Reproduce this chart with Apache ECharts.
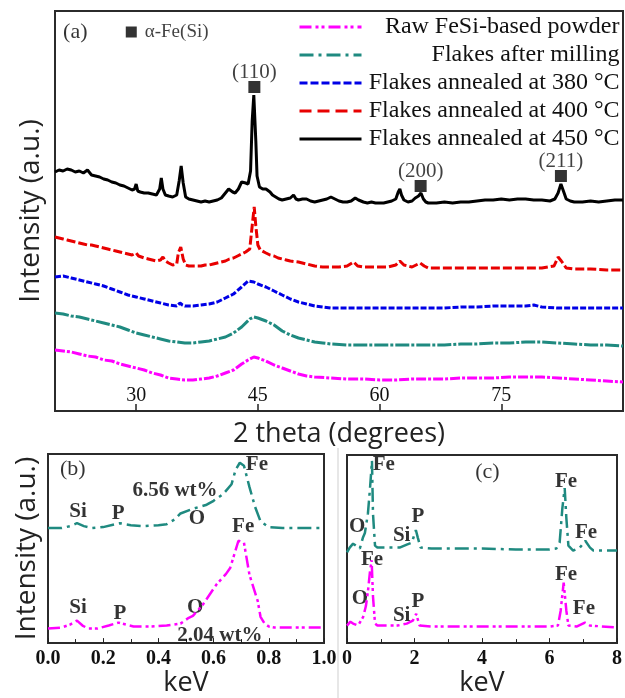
<!DOCTYPE html>
<html>
<head>
<meta charset="utf-8">
<script src="https://cdn.jsdelivr.net/npm/echarts@6/dist/echarts.min.js"></script>
<style>
  html, body { margin: 0; padding: 0; background: #fff; }
  #chart { width: 625px; height: 698px; }
</style>
</head>
<body>
<div id="chart"></div>
<script>
// (a) XRD patterns, [2 theta, intensity (offset, a.u.)]
const xrdRaw = [[20,61],[21,60],[22,59],[23,57],[24,55],[25,54],[26,51],[27,50],[28,47],[29,45],[30,43],[31,41],[32,38],[33,36],[34,33],[35,32],[36,31],[37,31],[38,32],[39,33],[40,35],[41,38],[42,41],[43,47],[44,52],[44.5,54],[45,53],[46,50],[47,46],[48,43],[49,40],[50,37],[51,35],[52,34],[54,33],[56,32],[58,32],[60,31],[62,31],[64,32],[66,32],[68,32],[70,33],[72,33],[74,33],[76,34],[78,34],[80,34],[82,33],[84,32],[86,31],[88,30],[90,29]];
const xrdMilled = [[20,98],[21,97],[22,95],[23,94],[24,92],[25,90],[26,88],[27,86],[28,84],[29,81],[30,78],[31,76],[32,74],[33,72],[34,70],[35,69],[36,68],[37,68],[38,69],[39,70],[40,72],[41,74],[42,78],[43,84],[44,92],[44.5,94],[45,93],[46,90],[47,86],[48,80],[49,76],[50,73],[51,71],[52,69],[53,68],[54,67],[56,66],[58,66],[60,66],[62,66],[64,66],[66,66],[68,66],[70,67],[72,67],[74,68],[76,68],[78,69],[80,69],[82,68],[84,67],[86,66],[88,66],[90,65]];
const xrd380 = [[20,134],[21,135],[22,133],[23,131],[24,129],[25,127],[26,125],[27,122],[28,119],[29,116],[30,114],[31,112],[32,110],[33,108],[34,106],[35,105],[35.4,108],[35.7,106],[36,105],[37,105],[38,106],[39,107],[40,109],[41,113],[42,117],[43,124],[43.8,130],[44.5,129],[45,127],[46,124],[47,120],[48,116],[49,112],[50,109],[51,107],[52,105],[53,104],[54,103],[56,103],[58,103],[60,103],[62,103],[64,103],[66,103],[68,103],[70,104],[72,104],[74,105],[76,105],[78,105],[79,106],[80,104],[82,103],[84,103],[86,103],[88,103],[90,103]];
const xrd400 = [[20,174],[20.5,173],[21,172],[21.5,171],[22,170],[22.5,169],[23,168],[23.5,167],[24,166],[24.5,166],[25,165],[25.5,164],[26,163],[26.5,162],[27,161],[27.5,160],[28,159],[28.5,158],[29,157],[29.5,156],[30,158],[30.3,155],[31,153],[31.5,152],[32,151],[32.5,150],[33,151],[33.3,154],[33.6,150],[34,148],[34.5,146],[35,147],[35.2,158],[35.5,164],[35.8,152],[36.1,146],[36.5,145],[37,145],[37.5,145],[38,145],[38.5,146],[39,146],[39.5,147],[40,148],[40.5,149],[41,150],[41.5,152],[42,153],[42.5,155],[43,157],[43.5,159],[44,162],[44.3,185],[44.55,204],[44.75,185],[45,166],[45.3,161],[46,158],[46.5,156],[47,155],[47.5,153],[48,152],[48.5,151],[49,150],[50,149],[51,147],[52,145],[53,144],[54,144],[55,144],[56,145],[56.8,149],[57.3,145],[58,144],[59,144],[60,144],[61,144],[62,146],[62.5,150],[63,146],[64,144],[65,148],[65.5,145],[66,143],[68,143],[70,143],[72,143],[74,143],[76,143],[78,143],[80,143],[81.5,145],[82,154],[82.4,150],[83,143],[84,142],[86,142],[88,141],[90,141]];
const xrd450 = [[20,239],[20.5,241],[21,240],[21.5,242],[22,241],[22.5,239],[23,240],[23.5,238],[24,241],[24.5,236],[25,235],[25.5,234],[26,232],[26.5,231],[27,229],[27.5,228],[28,226],[28.5,225],[29,223],[29.5,221],[29.8,222],[30,227],[30.2,220],[30.5,219],[31,218],[31.5,218],[32,217],[32.5,216],[32.9,222],[33.1,233],[33.3,222],[33.6,216],[34,215],[34.5,214],[35,216],[35.3,230],[35.55,245],[35.8,228],[36.1,214],[36.5,212],[37,211],[37.5,210],[38,209],[38.5,210],[39,209],[39.5,210],[40,211],[40.5,213],[41,218],[41.4,222],[41.6,224],[41.9,219],[42.2,218],[42.6,222],[43,229],[43.2,231],[43.5,228],[43.8,227],[44.1,240],[44.3,290],[44.5,316],[44.6,314],[44.75,270],[44.9,235],[45.2,224],[45.6,222],[46,222],[46.5,219],[46.8,216],[47.2,214],[47.6,212],[48,211],[48.5,212],[49,213],[49.4,216],[49.7,212],[50,211],[50.5,212],[51,212],[51.5,210],[52,209],[52.5,210],[53,211],[53.5,212],[54,214],[54.2,215],[54.5,212],[55,210],[55.5,209],[56,209],[56.5,210],[57,213],[57.4,211],[58,209],[58.5,208],[59,209],[59.5,208],[60,208],[60.5,208],[61,209],[61.5,210],[62,212],[62.3,219],[62.5,222],[62.7,216],[63,211],[63.5,209],[64,210],[64.4,213],[64.8,215],[65.1,218],[65.4,212],[65.7,209],[66,208],[67,208],[68,209],[69,208],[70,209],[71,209],[72,210],[73,211],[74,211],[75,212],[76,211],[77,212],[78,212],[79,211],[80,211],[81,210],[81.6,212],[82,218],[82.35,227],[82.7,219],[83,212],[83.5,210],[84,209],[85,209],[86,210],[87,209],[88,210],[89,211],[90,211]];
const xrdTicks = [30, 45, 60, 75];
// alpha-Fe(Si) reflections: [2 theta, marker height, label]
const peakMarks = [[44.57, 324, '(110)'], [65.06, 225, '(200)'], [82.35, 235, '(211)']];

// (b) EDS 0-1 keV, [keV, counts (offset)]
const edsLowRaw = [[0,15],[0.05,16],[0.08,19],[0.105,23],[0.125,18],[0.145,15],[0.18,15],[0.22,18],[0.255,21],[0.31,17],[0.37,17],[0.43,18],[0.48,20],[0.51,26],[0.525,28],[0.56,39],[0.61,60],[0.645,71],[0.66,77],[0.675,91],[0.69,105],[0.71,103],[0.73,70],[0.76,43],[0.77,27],[0.785,20],[0.8,17],[0.82,16],[1,16]];
const edsLowMilled = [[0,118],[0.05,118],[0.08,120],[0.105,123],[0.13,120],[0.16,118],[0.2,119],[0.26,123],[0.3,121],[0.34,120],[0.4,121],[0.43,122],[0.46,127],[0.48,133],[0.527,138],[0.575,142],[0.6,146],[0.635,153],[0.665,163],[0.68,178],[0.695,185],[0.71,182],[0.73,160],[0.75,140],[0.77,125],[0.8,119],[0.85,118],[0.9,118],[1,118]];

// (c) EDS 0-8 keV
const edsFullRaw = [[0,18],[0.1,22],[0.18,20],[0.33,18],[0.48,27],[0.56,38],[0.62,53],[0.68,73],[0.73,85],[0.77,48],[0.83,20],[0.9,18],[1.5,18],[1.77,20],[1.95,23],[2.05,30],[2.15,18],[2.5,17],[4,17],[6,17],[6.25,18],[6.33,33],[6.42,62],[6.5,33],[6.56,18],[6.8,17],[7.05,21],[7.2,18],[8,16]];
const edsFullMilled = [[0,93],[0.08,98],[0.18,102],[0.3,99],[0.38,97],[0.47,108],[0.53,113],[0.62,133],[0.68,158],[0.74,187],[0.77,133],[0.83,100],[0.9,98],[1.2,98],[1.56,98],[1.77,101],[1.92,103],[2.04,116],[2.1,108],[2.18,98],[2.5,97],[3,97],[4,97],[5,96],[6,96],[6.2,97],[6.3,103],[6.38,138],[6.45,159],[6.5,128],[6.56,100],[6.7,95],[6.9,98],[7.06,105],[7.2,98],[7.3,95],[8,95]];

// element labels [text, keV, height]
const labelsB = [['Si',0.109,135],['P',0.254,133],['O',0.54,128],['Fe',0.757,183],['6.56 wt%',0.46,156],
                 ['Si',0.109,36],['P',0.261,30],['O',0.533,36],['Fe',0.707,120],['2.04 wt%',0.623,8]];
const labelsC = [['Fe',1.09,183],['O',0.3,120],['Si',1.62,110],['P',2.1,130],['Fe',6.49,166],['Fe',7.08,113],
                 ['Fe',0.74,86],['O',0.38,46],['Si',1.62,28],['P',2.1,43],['Fe',6.49,70],['Fe',7.02,35]];

const names = ['Raw FeSi-based powder', 'Flakes after milling', 'Flakes annealed at 380 °C',
               'Flakes annealed at 400 °C', 'Flakes annealed at 450 °C'];
const MAG = '#ff00ff', TEAL = '#1f8a80', BLUE = '#0000e6', RED = '#e80000', BLACK = '#000000';
const dashRaw = [12, 4, 3, 3, 3, 4], dashMill = [14, 5, 3, 5];
const dash380 = [8, 3], dash400 = [12, 6];
const serif = 'Liberation Serif', sans = 'Open Sans';

function line(name, data, color, dash, idx, width) {
  return {
    name: name, type: 'line', xAxisIndex: idx, yAxisIndex: idx, data: data,
    symbol: 'none', silent: true,
    lineStyle: { color: color, width: width || 2.5, type: dash }, itemStyle: { color: color }
  };
}
function textMarks(items, idx, bold, size) {
  return {
    type: 'scatter', xAxisIndex: idx, yAxisIndex: idx, symbolSize: 1, silent: true,
    itemStyle: { color: 'transparent' },
    data: items.map(d => ({ value: [d[1], d[2]], name: d[0] })),
    label: { show: true, position: 'inside', formatter: '{b}', fontFamily: serif,
             fontSize: size, fontWeight: bold ? 'bold' : 'normal', color: '#000' }
  };
}

const legendDash = [dashRaw, dashMill, dash380, dash400, 'solid'];
const legendColor = [MAG, TEAL, BLUE, RED, BLACK];

const chart = echarts.init(document.getElementById('chart'));
const boxGrid = { show: true, borderColor: '#2b2b2b', borderWidth: 2, backgroundColor: '#fff' };

chart.setOption({
  animation: false,
  legend: {
    data: names.map((n, i) => ({ name: n, lineStyle: { type: legendDash[i], color: legendColor[i], width: 3 } })),
    orient: 'vertical', left: 298, top: 15, padding: 0,
    itemWidth: 62, itemHeight: 14, itemGap: 4, selectedMode: false,
    itemStyle: { opacity: 0 },
    formatter: '{r|{name}}',
    textStyle: { fontFamily: serif, fontSize: 24, color: '#111', lineHeight: 22,
                 rich: { r: { width: 253, align: 'right', fontFamily: serif, fontSize: 24, lineHeight: 22, color: '#111' } } }
  },
  grid: [
    Object.assign({ left: 55, right: 2, top: 11, bottom: 287 }, boxGrid),
    Object.assign({ left: 48, width: 276, top: 454, bottom: 50 }, boxGrid),
    Object.assign({ left: 347, right: 7, top: 455, bottom: 50 }, boxGrid)
  ],
  xAxis: [
    { gridIndex: 0, type: 'value', min: 20, max: 90,
      name: '2 theta (degrees)', nameLocation: 'middle', nameGap: 10,
      nameTextStyle: { fontFamily: sans, fontSize: 27, color: '#222' },
      axisLine: { show: false }, splitLine: { show: false },
      axisTick: { inside: true, length: 7, customValues: xrdTicks, lineStyle: { color: '#222', width: 1.5 } },
      axisLabel: { inside: true, margin: 5, customValues: xrdTicks, fontFamily: serif, fontSize: 20, color: '#111' } },
    { gridIndex: 1, type: 'value', min: 0, max: 1, interval: 0.2,
      name: 'keV', nameLocation: 'middle', nameGap: 25,
      nameTextStyle: { fontFamily: sans, fontSize: 27, color: '#222' },
      axisLine: { show: false }, splitLine: { show: false },
      axisTick: { inside: true, length: 5, lineStyle: { color: '#222' } },
      minorTick: { show: true, splitNumber: 2, length: 4, lineStyle: { color: '#222' } },
      axisLabel: { margin: 6, fontFamily: serif, fontWeight: 'bold', fontSize: 20, color: '#111',
                   formatter: v => v.toFixed(1) } },
    { gridIndex: 2, type: 'value', min: 0, max: 8, interval: 2,
      name: 'keV', nameLocation: 'middle', nameGap: 25,
      nameTextStyle: { fontFamily: sans, fontSize: 27, color: '#222' },
      axisLine: { show: false }, splitLine: { show: false },
      axisTick: { inside: true, length: 5, lineStyle: { color: '#222' } },
      minorTick: { show: true, splitNumber: 2, length: 4, lineStyle: { color: '#222' } },
      axisLabel: { margin: 6, fontFamily: serif, fontWeight: 'bold', fontSize: 20, color: '#111' } }
  ],
  yAxis: [
    { gridIndex: 0, type: 'value', min: 0, max: 400,
      name: 'Intensity (a.u.)', nameLocation: 'middle', nameGap: 10,
      nameTextStyle: { fontFamily: sans, fontSize: 28, color: '#222' },
      axisLine: { show: false }, axisTick: { show: false }, axisLabel: { show: false }, splitLine: { show: false } },
    { gridIndex: 1, type: 'value', min: 0, max: 194,
      name: 'Intensity (a.u.)', nameLocation: 'middle', nameGap: 7,
      nameTextStyle: { fontFamily: sans, fontSize: 28, color: '#222' },
      axisLine: { show: false }, axisTick: { show: false }, axisLabel: { show: false }, splitLine: { show: false } },
    { gridIndex: 2, type: 'value', min: 0, max: 193,
      axisLine: { show: false }, axisTick: { show: false }, axisLabel: { show: false }, splitLine: { show: false } }
  ],
  graphic: [
    { type: 'line', shape: { x1: 338, y1: 448, x2: 338, y2: 698 }, style: { stroke: '#cfcfcf', lineWidth: 1 } }
  ],
  series: [
    line(names[0], xrdRaw, MAG, [10, 2, 3, 2], 0, 3),
    line(names[1], xrdMilled, TEAL, [14, 2, 3, 2], 0, 3),
    line(names[2], xrd380, BLUE, [6, 2], 0, 3),
    line(names[3], xrd400, RED, [9, 3], 0, 3),
    line(names[4], xrd450, BLACK, 'solid', 0, 3),
    { type: 'scatter', xAxisIndex: 0, yAxisIndex: 0, symbol: 'rect', symbolSize: 12, silent: true,
      itemStyle: { color: '#000' },
      data: peakMarks.map(p => ({ value: [p[0], p[1]], name: p[2] })),
      label: { show: true, position: 'top', distance: -2, formatter: '{b}', fontFamily: serif, fontSize: 21, color: '#111' } },
    { type: 'scatter', xAxisIndex: 0, yAxisIndex: 0, symbol: 'rect', symbolSize: 11, silent: true,
      itemStyle: { color: '#000' },
      data: [{ value: [29.4, 379], name: 'α-Fe(Si)' }],
      label: { show: true, position: 'right', distance: 8, formatter: '{b}', fontFamily: serif, fontSize: 19, color: '#111' } },
    textMarks([['(a)', 22.5, 379]], 0, false, 22),
    line('b-raw', edsLowRaw, MAG, dashRaw, 1),
    line('b-mill', edsLowMilled, TEAL, dashMill, 1),
    textMarks(labelsB, 1, true, 21),
    textMarks([['(b)', 0.09, 178]], 1, false, 22),
    line('c-raw', edsFullRaw, MAG, dashRaw, 2),
    line('c-mill', edsFullMilled, TEAL, dashMill, 2),
    textMarks(labelsC, 2, true, 21),
    textMarks([['(c)', 4.16, 175]], 2, false, 22)
  ]
});
</script>
</body>
</html>
